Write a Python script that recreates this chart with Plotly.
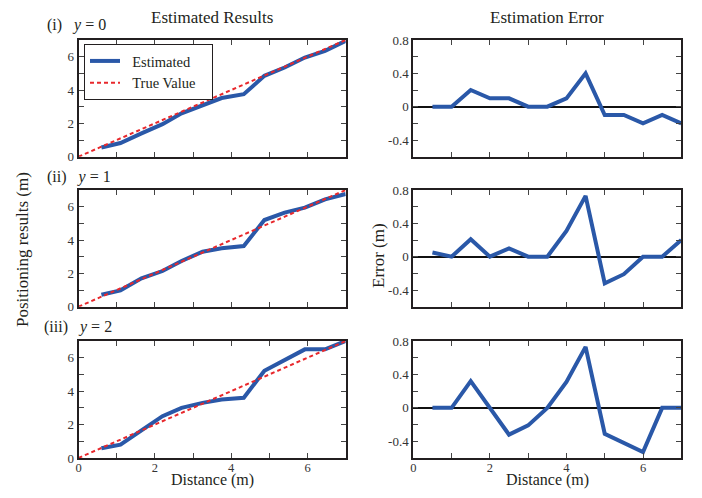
import plotly.graph_objects as go

# ---- data ----
est_x = [0.6, 1.1, 1.65, 2.2, 2.7, 3.25, 3.75, 4.33, 4.87, 5.4, 5.93, 6.46, 7.0]
est_y0 = [0.55, 0.82, 1.4, 1.95, 2.6, 3.1, 3.52, 3.75, 4.85, 5.35, 5.95, 6.35, 6.95]
est_y1 = [0.72, 0.98, 1.7, 2.14, 2.74, 3.3, 3.5, 3.64, 5.2, 5.64, 5.94, 6.44, 6.76]
est_y2 = [0.58, 0.8, 1.65, 2.5, 3.0, 3.3, 3.5, 3.6, 5.22, 5.86, 6.5, 6.5, 7.0]
true_x = [0, 7]
true_y = [0, 7]

err_x = [0.5, 1, 1.5, 2, 2.5, 3, 3.5, 4, 4.5, 5, 5.5, 6, 6.5, 7]
err_y0 = [0, 0, 0.2, 0.1, 0.1, 0, 0, 0.1, 0.4, -0.1, -0.1, -0.2, -0.1, -0.2]
err_y1 = [0.05, 0, 0.21, 0, 0.1, 0, 0, 0.31, 0.73, -0.32, -0.21, 0, 0, 0.2]
err_y2 = [0, 0, 0.32, 0, -0.32, -0.21, 0, 0.31, 0.73, -0.31, -0.42, -0.53, 0, 0]

x_tickvals = [0, 1, 2, 3, 4, 5, 6, 7]
x_ticktext = ["0", "", "2", "", "4", "", "6", ""]
ly_tickvals = [0, 1, 2, 3, 4, 5, 6, 7]
ly_ticktext = ["0", "", "2", "", "4", "", "6", ""]
ry_tickvals = [-0.6, -0.4, -0.2, 0, 0.2, 0.4, 0.6, 0.8]
ry_ticktext = ["", "-0.4", "", "0", "", "0.4", "", "0.8"]

row_labels = ["(i)", "(ii)", "(iii)"]
row_vals = ["0", "1", "2"]

# page body has an 8px margin: work in screen pixels and shift by OFF
OFF = 8
W, H = 702 - 2 * OFF, 498 - 2 * OFF
BLUE = "#2a58a8"
RED = "#e8282c"
FRAME = "#231f20"
TXT = "#231f20"
FONT = "Liberation Serif"

def px(x):
    return (x - OFF) / W

def py(y):
    return 1 - (y - OFF) / H

left_dom = [px(78.5), px(345.7)]
right_dom = [px(413.3), px(681.3)]
rows_px = [(40, 156.7), (190, 306.7), (341, 458)]
row_dom = [[py(b), py(t)] for (t, b) in rows_px]

fig = go.Figure()
est_sets = [est_y0, est_y1, est_y2]
err_sets = [err_y0, err_y1, err_y2]

layout = dict(
    width=W, height=H, margin=dict(l=0, r=0, t=0, b=0),
    paper_bgcolor="white", plot_bgcolor="white",
    font=dict(family=FONT, color=TXT, size=13),
    showlegend=True,
    legend=dict(x=px(84), y=py(44), xanchor="left", yanchor="top",
                bordercolor=FRAME, borderwidth=1, bgcolor="white",
                font=dict(size=14.5, family=FONT, color=TXT),
                tracegroupgap=2, itemwidth=30),
)

def axis_common():
    return dict(showline=True, mirror="allticks", linecolor=FRAME, linewidth=2,
                ticks="inside", ticklen=5, tickwidth=1.2, tickcolor="#444",
                showgrid=False, automargin=False,
                tickfont=dict(size=13, family=FONT, color="#333"))

for r in range(3):
    li = 2 * r + 1
    ri = 2 * r + 2
    lx = "x" if li == 1 else f"x{li}"
    ly = "y" if li == 1 else f"y{li}"
    rx = f"x{ri}"
    ry = f"y{ri}"
    fig.add_trace(go.Scatter(x=est_x, y=est_sets[r], mode="lines",
                             name="&nbsp;&nbsp;Estimated&nbsp;&nbsp;&nbsp;",
                             line=dict(color=BLUE, width=4), xaxis=lx, yaxis=ly,
                             showlegend=(r == 0)))
    fig.add_trace(go.Scatter(x=true_x, y=true_y, mode="lines",
                             name="&nbsp;&nbsp;True Value&nbsp;&nbsp;&nbsp;",
                             line=dict(color=RED, width=2, dash="4px,3px"), xaxis=lx, yaxis=ly,
                             showlegend=(r == 0)))
    fig.add_trace(go.Scatter(x=err_x, y=err_sets[r], mode="lines", name="Error",
                             line=dict(color=BLUE, width=4), xaxis=rx, yaxis=ry,
                             showlegend=False))
    bottom = (r == 2)
    xa = axis_common()
    xa.update(domain=left_dom, range=[0, 7], tickvals=x_tickvals,
              ticktext=x_ticktext if bottom else [""] * 8, anchor=ly, zeroline=False,
              ticklabelstandoff=-3)
    xa["tickfont"] = dict(size=12.5, family=FONT, color="#333")
    ya = axis_common()
    ya.update(domain=row_dom[r], range=[0, 7], tickvals=ly_tickvals, ticktext=ly_ticktext,
              anchor=lx, zeroline=False)
    xb = axis_common()
    xb.update(domain=right_dom, range=[0, 7], tickvals=x_tickvals,
              ticktext=x_ticktext if bottom else [""] * 8, anchor=ry, zeroline=False,
              ticklabelstandoff=-3)
    xb["tickfont"] = dict(size=12.5, family=FONT, color="#333")
    yb = axis_common()
    yb.update(domain=row_dom[r], range=[-0.6, 0.8], tickvals=ry_tickvals, ticktext=ry_ticktext,
              anchor=rx, zeroline=True, zerolinecolor="#111", zerolinewidth=1.5)
    layout["xaxis" if li == 1 else f"xaxis{li}"] = xa
    layout["yaxis" if li == 1 else f"yaxis{li}"] = ya
    layout[f"xaxis{ri}"] = xb
    layout[f"yaxis{ri}"] = yb

ann = []
def txt(x, y, s, size, angle=0, xanchor="center", yanchor="middle", pad=1):
    ann.append(dict(x=px(x), y=py(y), xref="paper", yref="paper", text=s,
                    showarrow=False, xanchor=xanchor, yanchor=yanchor, textangle=angle,
                    borderpad=pad,
                    font=dict(family=FONT, size=size, color=TXT)))

txt(212, 17, "Estimated Results", 17)
txt(547, 17, "Estimation Error", 17)
label_y = [25, 177, 327]
label_x = [45, 45, 42]
for r in range(3):
    txt(label_x[r], label_y[r],
        f"{row_labels[r]}&nbsp;&nbsp;&nbsp;<i>y</i> = {row_vals[r]}", 16, xanchor="left")
txt(212, 490, "Distance (m)", 16, yanchor="bottom", pad=0)
txt(547, 490, "Distance (m)", 16, yanchor="bottom", pad=0)
txt(22, 250, "Positioning results (m)", 17, angle=-90)
txt(379, 256, "Error (m)", 17, angle=-90)
layout["annotations"] = ann

fig.update_layout(**layout)
fig.write_html("out.html")
